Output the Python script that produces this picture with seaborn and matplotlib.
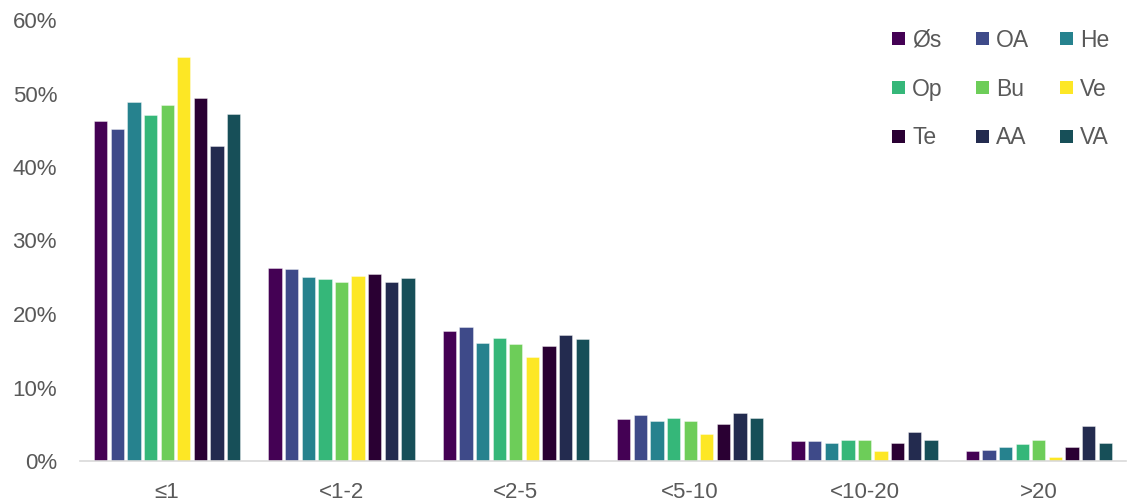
import matplotlib
matplotlib.use("Agg")
import matplotlib.pyplot as plt
import seaborn as sns
import pandas as pd
from matplotlib.patches import Patch
from matplotlib.ticker import PercentFormatter

# Share of items per size class, one series per region
categories = ["≤1", "<1-2", "<2-5", "<5-10", "<10-20", ">20"]
series = ["Øs", "OA", "He", "Op", "Bu", "Ve", "Te", "AA", "VA"]
values = {
    "Øs": [46.3, 26.2, 17.7, 5.7, 2.7, 1.4],
    "OA": [45.2, 26.1, 18.2, 6.2, 2.7, 1.5],
    "He": [48.9, 25.0, 16.1, 5.4, 2.5, 1.9],
    "Op": [47.1, 24.8, 16.8, 5.9, 2.9, 2.3],
    "Bu": [48.5, 24.3, 15.9, 5.4, 2.8, 2.9],
    "Ve": [54.9, 25.2, 14.2, 3.7, 1.4, 0.5],
    "Te": [49.4, 25.4, 15.7, 5.1, 2.4, 1.9],
    "AA": [42.9, 24.4, 17.1, 6.5, 4.0, 4.8],
    "VA": [47.2, 24.9, 16.6, 5.8, 2.8, 2.5],
}
colors = ["#440154", "#3e4a89", "#26828e", "#35b779", "#6dcd59",
          "#fde725", "#2a0033", "#232b4f", "#174f58"]
y_ticks = [0, 10, 20, 30, 40, 50, 60]

rows = [(c, s, values[s][i]) for s in series for i, c in enumerate(categories)]
df = pd.DataFrame(rows, columns=["category", "series", "value"])

sns.set_theme(style="white")
plt.rcParams["font.family"] = ["Liberation Sans", "DejaVu Sans"]
text_color = "#595959"
font_size = 16

W, H = 1129, 501
fig = plt.figure(figsize=(W / 100, H / 100), dpi=100)
ax = fig.add_axes([80 / W, 1 - 461 / H, 1046 / W, 441 / H])

sns.barplot(data=df, x="category", y="value", hue="series",
            order=categories, hue_order=series, palette=colors,
            saturation=1, width=0.86, gap=0.2, ax=ax, legend=False,
            edgecolor=(1, 1, 1, 0.45), linewidth=0.6)

ax.set_ylim(0, 60)
ax.set_yticks(y_ticks)
ax.yaxis.set_major_formatter(PercentFormatter(decimals=0))
ax.set_xlabel("")
ax.set_ylabel("")
ax.tick_params(axis="both", length=0, labelsize=font_size, labelcolor=text_color)
ax.tick_params(axis="y", pad=16.5)
ax.tick_params(axis="x", pad=15)
for side in ["top", "right", "left"]:
    ax.spines[side].set_visible(False)
ax.spines["bottom"].set_color("#d9d9d9")
ax.spines["bottom"].set_linewidth(1.2)
ax.grid(False)

# Legend: three fixed-width columns, entries read row by row
ncol = 3
col_x = [892, 976, 1060]
for c in range(ncol):
    names = [series[r * ncol + c] for r in range(len(series) // ncol)]
    hs = [Patch(facecolor=colors[series.index(n)], edgecolor="none") for n in names]
    leg = fig.legend(hs, names, loc="center left",
                     bbox_to_anchor=(col_x[c] / W, 1 - 89 / H),
                     frameon=False, fontsize=font_size + 0.5,
                     handlelength=0.55, handleheight=0.5,
                     handletextpad=0.33, labelspacing=1.12,
                     borderaxespad=0, borderpad=0)
    for t in leg.get_texts():
        t.set_color(text_color)

fig.savefig("out.png", dpi=100)
